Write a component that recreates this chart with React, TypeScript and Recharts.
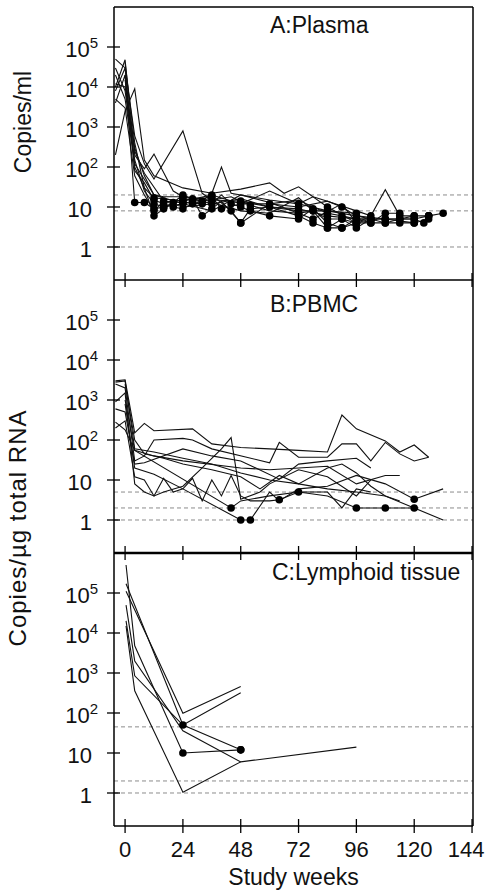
import { LineChart, Line, XAxis, YAxis, ReferenceLine } from 'recharts';

type Pt = number[];

const weekTicks = [0, 24, 48, 72, 96, 120, 144];
const logTicks = [1, 10, 100, 1000, 10000, 100000];
const weekDomain = [-4.6, 144.4];
const logDomain = [0.1496, 1000000];

// dashed detection-limit lines per panel
const plasmaLimits = [20, 8, 1];
const pbmcLimits = [5, 2, 1];
const tissueLimits = [45, 2, 1];

// [week, copies, 1 = below limit (filled dot)]
const plasma01: Pt[] = [[-4, 50000], [0, 30000], [4, 600], [8, 120], [12, 50], [24, 800], [32, 22], [36, 15], [48, 14], [60, 10], [72, 9], [84, 6, 1], [96, 5, 1], [108, 5, 1], [120, 4, 1]];
const plasma02: Pt[] = [[-4, 10000], [0, 48000], [4, 200], [8, 90], [12, 210], [20, 25], [24, 18, 1], [32, 14], [36, 22], [40, 100], [44, 22], [48, 20], [60, 15], [72, 12], [84, 8, 1], [96, 7, 1]];
const plasma03: Pt[] = [[-4, 200], [0, 2500], [4, 9000], [8, 150], [12, 60], [24, 30], [36, 22], [48, 28], [60, 40], [66, 22], [72, 32], [78, 18], [84, 14], [96, 8], [102, 6], [108, 27], [114, 6, 1], [120, 6, 1], [126, 6, 1], [132, 7, 1]];
const plasma04: Pt[] = [[-4, 4000], [0, 20000], [4, 13, 1], [8, 13, 1], [12, 9, 1], [16, 10, 1], [24, 12, 1], [28, 14], [36, 15, 1], [44, 18], [48, 14, 1], [52, 11, 1], [60, 8], [72, 7, 1], [78, 8, 1], [84, 5, 1], [90, 5, 1], [96, 4, 1], [102, 5, 1], [108, 5, 1], [114, 5, 1], [120, 5, 1], [126, 6, 1]];
const plasma05: Pt[] = [[-4, 8000], [0, 30000], [4, 100], [8, 30], [12, 6, 1], [16, 9, 1], [20, 13, 1], [24, 20, 1], [28, 16, 1], [32, 6, 1], [36, 9, 1], [40, 14], [48, 4, 1], [52, 9, 1], [60, 10, 1], [72, 6, 1], [78, 4, 1], [84, 3, 1], [90, 5, 1], [96, 3, 1], [102, 5, 1]];
const plasma06: Pt[] = [[-4, 30000], [0, 8000], [4, 150], [8, 25], [12, 12, 1], [16, 10, 1], [24, 16, 1], [28, 15, 1], [36, 18, 1], [40, 9, 1], [48, 12], [60, 12, 1], [72, 15], [78, 10], [84, 7, 1], [90, 6, 1], [96, 5, 1], [102, 4, 1], [108, 4, 1], [114, 4, 1], [120, 4, 1], [126, 5, 1]];
const plasma07: Pt[] = [[-4, 12000], [0, 10000], [4, 300], [8, 60], [12, 20], [16, 18], [24, 18], [32, 16], [36, 13], [48, 8], [60, 7], [72, 17], [78, 8, 1], [84, 3, 1], [90, 3, 1], [96, 5, 1], [102, 5, 1]];
const plasma08: Pt[] = [[0, 20000], [4, 80], [8, 40], [12, 15, 1], [16, 12, 1], [20, 10, 1], [24, 9, 1], [28, 12, 1], [32, 14, 1], [36, 12, 1], [40, 20], [44, 12, 1], [48, 10, 1], [52, 8, 1], [60, 6, 1], [72, 5, 1], [78, 9, 1], [84, 4, 1], [90, 3, 1], [96, 4, 1]];
const plasma09: Pt[] = [[-4, 5000], [0, 3000], [4, 60], [8, 20], [12, 8, 1], [16, 14, 1], [24, 13, 1], [32, 12, 1], [36, 20], [44, 8, 1], [48, 4, 1], [60, 12], [72, 10, 1], [84, 14], [90, 10, 1], [96, 6, 1], [102, 5, 1], [108, 4, 1], [114, 5, 1], [120, 5, 1], [124, 4, 1], [126, 6, 1]];
const plasma10: Pt[] = [[0, 40000], [4, 400], [8, 30], [12, 17, 1], [24, 14, 1], [36, 20, 1], [48, 12, 1], [60, 25], [72, 12, 1], [78, 18], [84, 10, 1], [96, 4, 1], [102, 6, 1]];
const plasma11: Pt[] = [[-4, 20000], [0, 5000], [4, 120], [12, 20], [24, 12], [36, 8], [48, 20], [60, 13], [72, 7, 1], [78, 5, 1], [90, 12], [96, 4, 1], [102, 4, 1], [108, 7, 1], [114, 7, 1]];
const plasma12: Pt[] = [[0, 15000], [4, 250], [8, 70], [16, 14], [24, 10], [36, 12], [48, 16], [60, 10], [72, 8, 1], [84, 8], [96, 6], [108, 5, 1], [114, 5, 1], [120, 6, 1]];

const pbmc01: Pt[] = [[-4, 3000], [0, 3200], [4, 150], [8, 260], [12, 170], [28, 190], [36, 80], [48, 65], [60, 60], [72, 55], [84, 50], [90, 420], [96, 190], [108, 95], [114, 50], [120, 75], [126, 37]];
const pbmc02: Pt[] = [[-4, 2500], [0, 2000], [4, 30], [8, 40], [12, 100], [24, 110], [28, 100], [36, 60], [60, 27], [64, 87], [72, 37], [84, 37], [90, 80], [96, 80], [102, 30], [108, 87], [114, 45], [120, 30], [126, 37]];
const pbmc03: Pt[] = [[-4, 600], [0, 500], [4, 25], [8, 27], [24, 60], [36, 40], [48, 30], [64, 10.5], [72, 25], [84, 30], [96, 35], [102, 20]];
const pbmc04: Pt[] = [[-4, 280], [0, 180], [4, 55], [12, 40], [24, 30], [48, 20], [60, 18], [72, 20], [84, 22], [96, 8], [108, 13], [114, 13]];
const pbmc05: Pt[] = [[-4, 200], [0, 300], [4, 12], [8, 10], [12, 4], [16, 11], [20, 5], [24, 6], [28, 11], [32, 3], [36, 10], [40, 4], [44, 13], [48, 4], [52, 3], [60, 3], [64, 3.2, 1], [72, 5], [84, 5], [90, 2], [96, 6], [102, 5]];
const pbmc06: Pt[] = [[-4, 900], [0, 1500], [4, 8], [8, 5], [12, 4], [16, 5], [24, 7], [32, 20], [40, 60], [44, 115], [48, 3.3], [56, 5], [60, 8], [72, 18], [84, 12], [96, 4], [102, 10]];
const pbmc07: Pt[] = [[0, 1000], [4, 55], [44, 2, 1], [48, 3], [60, 4], [72, 5, 1], [84, 4], [96, 2, 1], [108, 2, 1], [120, 2, 1]];
const pbmc08: Pt[] = [[0, 800], [4, 20], [12, 14], [24, 6], [48, 1, 1], [52, 1, 1], [60, 5], [64, 3], [72, 6], [84, 7], [96, 13], [108, 8], [120, 3.3, 1], [132, 6]];
const pbmc09: Pt[] = [[-4, 2800], [0, 3000], [4, 60], [12, 50], [24, 35], [36, 25], [48, 15], [60, 10], [72, 8], [84, 6], [96, 5], [108, 4], [120, 2], [132, 1]];
const pbmc10: Pt[] = [[0, 2500], [4, 100], [8, 45], [16, 35], [24, 25], [36, 18], [48, 12], [56, 6], [64, 13], [72, 8], [84, 20], [90, 25], [96, 15], [102, 7], [108, 4], [114, 3]];

const tissue01: Pt[] = [[0.4, 500000], [4, 4800], [24, 10, 1], [48, 12, 1]];
const tissue02: Pt[] = [[0.4, 170000], [24, 50, 1], [48, 320]];
const tissue03: Pt[] = [[0.4, 110000], [24, 98], [48, 460]];
const tissue04: Pt[] = [[0.4, 50000], [4, 2000], [24, 36], [48, 6], [96, 14]];
const tissue05: Pt[] = [[0.4, 20000], [4, 850], [24, 50], [48, 12, 1]];
const tissue06: Pt[] = [[0.4, 15000], [4, 360], [24, 1.05], [48, 6]];

const plasmaSeries = [plasma01, plasma02, plasma03, plasma04, plasma05, plasma06, plasma07, plasma08, plasma09, plasma10, plasma11, plasma12];
const pbmcSeries = [pbmc01, pbmc02, pbmc03, pbmc04, pbmc05, pbmc06, pbmc07, pbmc08, pbmc09, pbmc10];
const tissueSeries = [tissue01, tissue02, tissue03, tissue04, tissue05, tissue06];

const toPts = (s: Pt[]) => s.map(([w, v, d]) => ({ w, v, d: !!d }));

const FONT = '"Liberation Sans", Arial, Helvetica, sans-serif';

const YTick = (props: any) => {
  const { x, y, payload } = props;
  const v = payload.value;
  const e = Math.round(Math.log10(v));
  return (
    <g>
      <line x1={x - 7} x2={x + 6} y1={y} y2={y} stroke="#000" strokeWidth={1.3} />
      {e >= 2 ? (
        <text x={x - 16} y={y + 10} textAnchor="end" fontSize={22} fill="#111">
          10<tspan dy={-9} fontSize={15}>{e}</tspan>
        </text>
      ) : (
        <text x={x - 22} y={y + 10} textAnchor="end" fontSize={22} fill="#111">{v}</text>
      )}
    </g>
  );
};

const XTick = (props: any) => {
  const { x, y, payload, showLabel } = props;
  const shift = payload.value === 144 ? -6 : 0;
  return (
    <g>
      <line x1={x} x2={x} y1={y - 7} y2={y + 7} stroke="#000" strokeWidth={1.3} />
      {showLabel && (
        <text x={x + shift} y={y + 31} textAnchor="middle" fontSize={22} fill="#111">{payload.value}</text>
      )}
    </g>
  );
};

const renderDot = (p: any) =>
  p.payload && p.payload.d
    ? <circle key={`d${p.index}`} cx={p.cx} cy={p.cy} r={3.8} fill="#000" />
    : <g key={`n${p.index}`} />;

function Panel({ top, height, mTop, mBottom, series, limits, last, frameTop, baseWidth }: any) {
  return (
    <div style={{ position: 'absolute', left: 0, top }}>
      <LineChart width={488} height={height} margin={{ top: mTop, right: 15, bottom: mBottom, left: 0 }}>
        <XAxis
          dataKey="w"
          type="number"
          domain={weekDomain}
          ticks={weekTicks}
          interval={0}
          allowDataOverflow
          height={last ? 60 : 1}
          tickSize={0}
          tickMargin={0}
          tickLine={false}
          axisLine={{ stroke: '#000', strokeWidth: baseWidth }}
          tick={<XTick showLabel={last} />}
          label={last ? {
            content: (lp: any) => (
              <text x={lp.viewBox.x + lp.viewBox.width / 2} y={lp.viewBox.y + 59} textAnchor="middle" fontSize={23} fill="#111">
                Study weeks
              </text>
            ),
          } : undefined}
        />
        <YAxis
          type="number"
          scale="log"
          domain={logDomain}
          ticks={logTicks}
          interval={0}
          allowDataOverflow
          width={114}
          tickSize={0}
          tickMargin={0}
          tickLine={false}
          axisLine={{ stroke: '#000', strokeWidth: 1.5 }}
          tick={<YTick />}
        />
        {limits.map((v: number) => (
          <ReferenceLine key={v} y={v} stroke="#8c8c8c" strokeDasharray="4 3" strokeWidth={1} />
        ))}
        <ReferenceLine x={weekDomain[1]} stroke="#000" strokeWidth={1.5} />
        {frameTop && <ReferenceLine y={logDomain[1]} stroke="#000" strokeWidth={1.5} />}
        {series.map((s: Pt[], i: number) => (
          <Line
            key={i}
            data={toPts(s)}
            dataKey="v"
            type="linear"
            stroke="#111"
            strokeWidth={1.1}
            dot={renderDot}
            activeDot={false}
            isAnimationActive={false}
          />
        ))}
      </LineChart>
    </div>
  );
}

export default function App() {
  return (
    <div style={{ position: 'absolute', left: 0, top: 0, width: 488, height: 896, background: '#fff', fontFamily: FONT }}>
      <Panel top={0} height={295} mTop={7} mBottom={14} series={plasmaSeries} limits={plasmaLimits} frameTop baseWidth={1.5} />
      <Panel top={265} height={303} mTop={15} mBottom={14} series={pbmcSeries} limits={pbmcLimits} baseWidth={2.5} />
      <Panel top={538} height={358} mTop={15} mBottom={10} series={tissueSeries} limits={tissueLimits} last baseWidth={1.5} />
      <svg width={488} height={896} style={{ position: 'absolute', left: 0, top: 0, pointerEvents: 'none' }}>
        <text x={270} y={33} fontSize={23} fill="#111">A:Plasma</text>
        <text x={270} y={312} fontSize={23} fill="#111">B:PBMC</text>
        <text x={272} y={580} fontSize={23} fill="#111">C:Lymphoid tissue</text>
        <text transform="translate(31,122) rotate(-90)" textAnchor="middle" fontSize={23} fill="#111">Copies/ml</text>
        <text transform="translate(26,528) rotate(-90)" textAnchor="middle" fontSize={24} letterSpacing={1} fill="#111">Copies/µg total RNA</text>
      </svg>
    </div>
  );
}
